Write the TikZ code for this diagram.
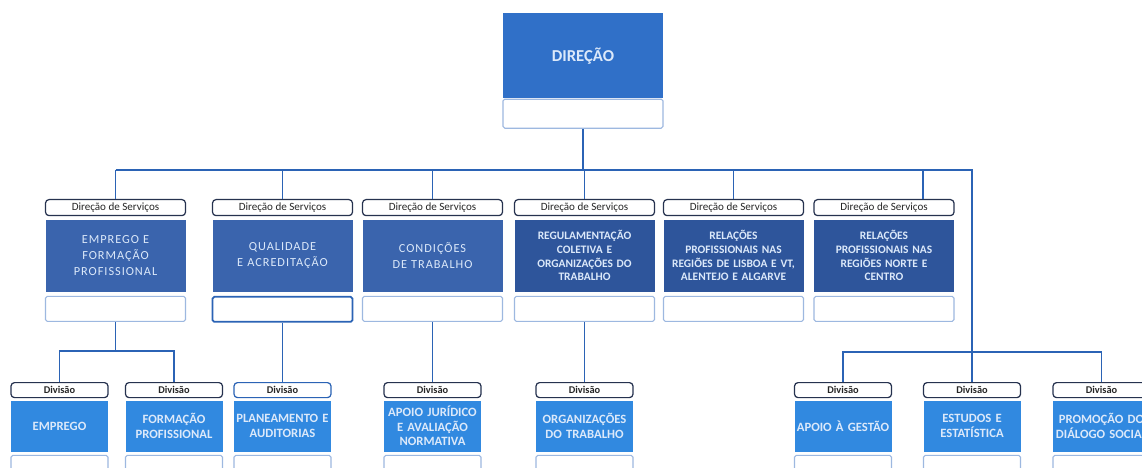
\documentclass[tikz,border=0pt]{standalone}
\usepackage{fontspec}
\setmainfont{Carlito}
\usetikzlibrary{positioning}

\definecolor{dirblue}{HTML}{3070C8}
\definecolor{dsblue}{HTML}{3A64AD}
\definecolor{dsdark}{HTML}{2E559B}
\definecolor{dvblue}{HTML}{3189E0}
\definecolor{linkblue}{HTML}{2B63B5}
\definecolor{navy}{HTML}{26324F}
\definecolor{paleblue}{HTML}{9DB8E0}
\definecolor{boxtext}{HTML}{DCE9FA}

\tikzset{
  lbl/.style={draw=navy, fill=white, rounded corners=2pt, line width=0.7pt,
    anchor=north, minimum width=2.8cm, minimum height=0.32cm, inner sep=0pt,
    text=black!85, font=\fontsize{6.3}{6.5}\selectfont},
  dvlbl/.style={lbl, minimum width=1.94cm, minimum height=0.3cm,
    font=\fontsize{5.9}{6}\selectfont\bfseries},
  dsbox/.style={fill=dsblue, text=boxtext, minimum height=1.44cm,
    text width=2.8cm, inner sep=0pt, align=center,
    font=\fontsize{7}{9}\selectfont\addfontfeature{LetterSpace=8}},
  dsboxdk/.style={dsbox, fill=dsdark, font=\fontsize{6.5}{7.8}\selectfont\bfseries},
  dvbox/.style={fill=dvblue, text=boxtext, minimum height=1.02cm,
    text width=1.94cm, inner sep=0pt, align=center,
    font=\fontsize{7.2}{8.2}\selectfont\bfseries},
  blank/.style={draw=paleblue, fill=white, line width=0.6pt, rounded corners=1pt,
    minimum width=2.8cm, minimum height=0.5cm, inner sep=0pt},
  link/.style={draw=linkblue, line width=1pt}
}

\begin{document}
\begin{tikzpicture}
  \useasboundingbox (0,0) rectangle (22.84,-9.36);
  \clip (0,0) rectangle (22.84,-9.36);
  \fill[white] (0,0) rectangle (22.84,-9.36);

  % top
  \node[fill=dirblue, text=boxtext, anchor=north, minimum width=3.2cm,
    minimum height=1.7cm, font=\fontsize{9.5}{10}\selectfont\bfseries] (dir)
    at (11.66,-0.26) {DIREÇÃO};
  \node[blank, minimum width=3.2cm, minimum height=0.58cm, below=0pt of dir] (dirw) {};

  % direcoes de servicos
  \node[lbl] (ds1l) at (2.31,-3.98) {Direção de Serviços};
  \node[dsbox, below=0.06cm of ds1l] (ds1) {EMPREGO E\\FORMAÇÃO\\PROFISSIONAL};
  \node[blank, below=0.08cm of ds1] (ds1w) {};

  \node[lbl] (ds2l) at (5.65,-3.98) {Direção de Serviços};
  \node[dsbox, below=0.06cm of ds2l] (ds2) {QUALIDADE\\E ACREDITAÇÃO};
  \node[blank, draw=linkblue, line width=1pt, below=0.08cm of ds2] (ds2w) {};

  \node[lbl] (ds3l) at (8.65,-3.98) {Direção de Serviços};
  \node[dsbox, below=0.06cm of ds3l] (ds3) {CONDIÇÕES\\DE TRABALHO};
  \node[blank, below=0.08cm of ds3] (ds3w) {};

  \node[lbl] (ds4l) at (11.69,-3.98) {Direção de Serviços};
  \node[dsboxdk, below=0.06cm of ds4l] (ds4) {REGULAMENTAÇÃO\\COLETIVA E\\ORGANIZAÇÕES DO\\TRABALHO};
  \node[blank, below=0.08cm of ds4] (ds4w) {};

  \node[lbl] (ds5l) at (14.67,-3.98) {Direção de Serviços};
  \node[dsboxdk, below=0.06cm of ds5l] (ds5) {RELAÇÕES\\PROFISSIONAIS NAS\\REGIÕES DE LISBOA E VT,\\ALENTEJO E ALGARVE};
  \node[blank, below=0.08cm of ds5] (ds5w) {};

  \node[lbl] (ds6l) at (17.68,-3.98) {Direção de Serviços};
  \node[dsboxdk, below=0.06cm of ds6l] (ds6) {RELAÇÕES\\PROFISSIONAIS NAS\\REGIÕES NORTE E\\CENTRO};
  \node[blank, below=0.08cm of ds6] (ds6w) {};

  % divisoes
  \node[dvlbl] (dv1l) at (1.19,-7.64) {Divisão};
  \node[dvbox, below=0.04cm of dv1l] (dv1) {EMPREGO};
  \node[blank, minimum width=1.94cm, below=0.06cm of dv1] (dv1w) {};

  \node[dvlbl] (dv2l) at (3.48,-7.64) {Divisão};
  \node[dvbox, below=0.04cm of dv2l] (dv2) {FORMAÇÃO\\PROFISSIONAL};
  \node[blank, minimum width=1.94cm, below=0.06cm of dv2] (dv2w) {};

  \node[dvlbl, draw=linkblue] (dv3l) at (5.65,-7.64) {Divisão};
  \node[dvbox, below=0.04cm of dv3l] (dv3) {PLANEAMENTO E\\AUDITORIAS};
  \node[blank, minimum width=1.94cm, below=0.06cm of dv3] (dv3w) {};

  \node[dvlbl] (dv4l) at (8.65,-7.64) {Divisão};
  \node[dvbox, below=0.04cm of dv4l] (dv4) {APOIO JURÍDICO\\E AVALIAÇÃO\\NORMATIVA};
  \node[blank, minimum width=1.94cm, below=0.06cm of dv4] (dv4w) {};

  \node[dvlbl] (dv5l) at (11.69,-7.64) {Divisão};
  \node[dvbox, below=0.04cm of dv5l] (dv5) {ORGANIZAÇÕES\\DO TRABALHO};
  \node[blank, minimum width=1.94cm, below=0.06cm of dv5] (dv5w) {};

  \node[dvlbl] (dv6l) at (16.86,-7.64) {Divisão};
  \node[dvbox, below=0.04cm of dv6l] (dv6) {APOIO À GESTÃO};
  \node[blank, minimum width=1.94cm, below=0.06cm of dv6] (dv6w) {};

  \node[dvlbl] (dv7l) at (19.44,-7.64) {Divisão};
  \node[dvbox, below=0.04cm of dv7l] (dv7) {ESTUDOS E\\ESTATÍSTICA};
  \node[blank, minimum width=1.94cm, below=0.06cm of dv7] (dv7w) {};

  \node[dvlbl] (dv8l) at (22.03,-7.64) {Divisão};
  \node[dvbox, below=0.04cm of dv8l] (dv8) {PROMOÇÃO DO\\DIÁLOGO SOCIAL};
  \node[blank, minimum width=1.94cm, below=0.06cm of dv8] (dv8w) {};

  % connectors
  \coordinate (busR) at (19.44,-3.40);
  \coordinate (ds6in) at (18.46,-3.98);
  \coordinate (lbus) at (0,-7.02);
  \coordinate (rbus) at (0,-7.04);
  \draw[link] (dirw.south) -- (dirw.south |- busR);
  \draw[link] (ds1l.north |- busR) -- (busR) -- (busR |- rbus);
  \draw[link] (ds1l.north) -- (ds1l.north |- busR);
  \draw[link] (ds2l.north) -- (ds2l.north |- busR);
  \draw[link] (ds3l.north) -- (ds3l.north |- busR);
  \draw[link] (ds4l.north) -- (ds4l.north |- busR);
  \draw[link] (ds5l.north) -- (ds5l.north |- busR);
  \draw[link] (ds6in) -- (ds6in |- busR);

  \draw[link] (ds1w.south) -- (ds1w.south |- lbus);
  \draw[link] (dv1l.north) -- (dv1l.north |- lbus) -- (dv2l.north |- lbus) -- (dv2l.north);
  \draw[link] (ds2w.south) -- (dv3l.north);
  \draw[link] (ds3w.south) -- (dv4l.north);
  \draw[link] (ds4w.south) -- (dv5l.north);
  \draw[link] (dv6l.north) -- (dv6l.north |- rbus) -- (dv8l.north |- rbus) -- (dv8l.north);
  \draw[link] (dv7l.north) -- (dv7l.north |- rbus);
\end{tikzpicture}
\end{document}
